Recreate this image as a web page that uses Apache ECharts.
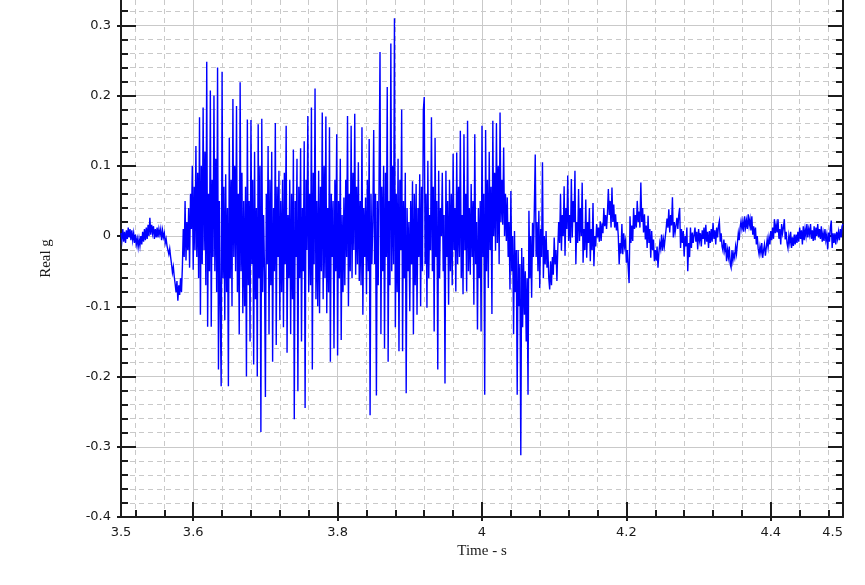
<!DOCTYPE html>
<html>
<head>
<meta charset="utf-8">
<script src="https://cdn.jsdelivr.net/npm/echarts@6/dist/echarts.min.js"></script>
<style>
html,body{margin:0;padding:0;background:#ffffff;}
#chart{width:865px;height:585px;}
</style>
</head>
<body>
<div id="chart"></div>
<script>
// ---- data ----
const startTime = 3.5;       // s, first sample
const sampleStep = 0.00125;  // s, sampling step
const accel = [
  // 3.500 - 3.54875
  0.004, -0.006, 0.01, -0.008, 0.006, -0.01, 0.008, -0.004, 0.012, -0.002, 0.01, -0.006,
  0.008, -0.006, 0.004, -0.01, 0.002, -0.012, -0.004, -0.016, -0.004, -0.014, 0.0, -0.012,
  0.006, -0.008, 0.01, -0.006, 0.012, -0.004, 0.016, 0.0, 0.026, 0.002, 0.016, 0.004,
  0.014, -0.004, 0.01, -0.002,
  // 3.550 - 3.59875
  0.012, -0.002, 0.01, 0.002, 0.01, -0.006, 0.008, -0.002, 0.004, -0.01, -0.004, -0.014,
  -0.012, -0.026, -0.018, -0.03, -0.04, -0.052, -0.044, -0.058, -0.068, -0.08, -0.064, -0.092,
  -0.07, -0.084, -0.06, -0.08, -0.045, 0.01, -0.03, 0.05, -0.035, 0.02, -0.02, 0.04,
  -0.045, 0.06, 0.01, 0.1,
  // 3.600 - 3.64875
  -0.048, 0.07, -0.02, 0.128, -0.03, 0.09, -0.06, 0.169, -0.112, 0.1, -0.04, 0.183,
  -0.02, 0.12, -0.07, 0.248, -0.129, 0.06, -0.05, 0.207, -0.129, 0.08, -0.03, 0.2,
  -0.05, 0.11, -0.08, 0.24, -0.19, 0.05, -0.1, -0.214, 0.234, -0.06, 0.07, -0.12,
  0.088, -0.08, 0.04, -0.214,
  // 3.650 - 3.69875
  0.14, -0.06, 0.08, -0.1, 0.195, -0.03, 0.1, -0.05, 0.185, -0.08, 0.06, -0.14,
  0.219, -0.05, 0.09, -0.11, 0.05, -0.1, 0.07, -0.2, 0.166, -0.07, 0.05, -0.15,
  0.165, -0.04, 0.08, -0.183, 0.12, -0.09, 0.04, -0.2, 0.159, -0.06, 0.1, -0.279,
  0.167, -0.08, 0.03, -0.05,
  // 3.700 - 3.74875
  -0.229, 0.06, -0.04, 0.128, -0.14, 0.08, -0.07, 0.12, -0.179, 0.04, -0.05, 0.161,
  -0.155, 0.07, -0.03, 0.093, -0.12, 0.05, -0.08, 0.08, -0.13, 0.09, -0.04, 0.157,
  -0.166, 0.03, -0.06, 0.08, -0.14, 0.06, -0.09, 0.123, -0.261, 0.05, -0.03, 0.11,
  -0.221, 0.07, -0.06, 0.125,
  // 3.750 - 3.79875
  -0.15, 0.04, -0.05, 0.135, -0.245, 0.08, -0.02, 0.171, -0.08, 0.06, -0.07, 0.183,
  -0.19, 0.09, -0.04, 0.21, -0.09, 0.05, -0.1, 0.093, -0.11, 0.07, -0.05, 0.176,
  -0.09, 0.1, -0.06, 0.17, -0.11, 0.04, -0.08, 0.155, -0.179, 0.06, -0.03, 0.05,
  -0.16, 0.08, -0.05, 0.145,
  // 3.800 - 3.84875
  -0.17, 0.05, -0.06, 0.11, -0.148, 0.03, -0.08, 0.055, -0.07, 0.08, -0.03, 0.171,
  -0.1, 0.06, -0.05, 0.157, -0.06, 0.09, -0.02, 0.174, -0.055, 0.07, -0.04, 0.105,
  -0.064, 0.05, -0.07, 0.155, -0.112, 0.04, -0.03, 0.055, -0.083, 0.08, -0.05, 0.138,
  -0.255, 0.06, -0.04, 0.02,
  // 3.850 - 3.89875
  0.151, -0.04, 0.06, -0.227, 0.05, -0.07, 0.09, 0.262, -0.14, 0.07, -0.05, 0.1,
  -0.16, 0.09, -0.03, 0.212, -0.179, 0.05, -0.07, 0.274, -0.05, 0.1, -0.04, 0.31,
  -0.13, 0.06, -0.08, 0.11, -0.164, 0.08, -0.02, 0.18, -0.164, 0.05, -0.06, 0.09,
  -0.224, 0.04, -0.05, 0.02,
  // 3.900 - 3.94875
  -0.107, 0.05, -0.04, 0.078, -0.14, 0.06, -0.07, 0.074, -0.112, 0.04, -0.03, 0.088,
  -0.1, 0.07, -0.05, 0.179, 0.198, -0.04, 0.06, -0.102, 0.107, -0.06, 0.03, -0.02,
  0.169, -0.05, 0.07, -0.136, 0.14, -0.03, 0.05, -0.19, 0.093, -0.06, 0.04, 0.0,
  0.09, -0.05, 0.03, -0.21,
  // 3.950 - 3.99875
  0.093, -0.03, 0.05, -0.098, 0.08, -0.05, 0.06, -0.07, 0.117, -0.02, 0.04, -0.079,
  0.119, -0.04, 0.07, -0.03, 0.15, -0.06, 0.03, -0.083, 0.145, -0.02, 0.06, -0.079,
  0.164, -0.05, 0.04, -0.055, 0.074, -0.03, 0.05, -0.098, 0.145, -0.04, 0.02, -0.133,
  0.04, -0.06, 0.05, -0.136,
  // 4.000 - 4.04875
  0.157, -0.03, 0.06, -0.226, 0.151, -0.05, 0.08, -0.074, 0.12, -0.02, 0.07, -0.111,
  0.164, 0.0, 0.09, -0.021, 0.161, -0.01, 0.1, -0.04, 0.176, 0.02, 0.08, 0.016,
  0.126, 0.0, 0.06, -0.007, 0.055, -0.03, 0.02, -0.076, 0.064, -0.05, 0.0, -0.14,
  0.007, -0.08, -0.02, -0.226,
  // 4.050 - 4.09875
  -0.02, -0.1, -0.04, -0.312, -0.017, -0.13, -0.03, -0.112, -0.05, -0.15, -0.06, -0.226,
  0.036, -0.06, 0.0, -0.088, 0.019, -0.03, 0.04, 0.116, -0.03, 0.02, -0.05, 0.036,
  -0.074, 0.01, -0.03, 0.105, -0.06, 0.0, -0.04, 0.007, -0.045, -0.02, -0.06, -0.076,
  -0.036, -0.07, -0.03, -0.055,
  // 4.100 - 4.14875
  -0.002, -0.04, -0.02, -0.064, -0.017, 0.02, -0.01, 0.06, -0.021, 0.03, 0.0, 0.071,
  -0.028, 0.04, 0.01, 0.086, -0.007, 0.03, -0.01, 0.081, -0.002, 0.05, 0.02, 0.093,
  -0.04, 0.02, -0.01, 0.067, -0.007, 0.04, 0.0, 0.076, -0.038, 0.01, -0.02, 0.052,
  -0.031, 0.02, -0.01, 0.04,
  // 4.150 - 4.19875
  -0.036, 0.01, -0.02, 0.047, -0.043, 0.0, -0.015, 0.017, -0.002, 0.012, -0.008, 0.021,
  -0.007, 0.018, 0.004, 0.04, 0.014, 0.03, 0.01, 0.033, 0.067, 0.03, 0.05, 0.012,
  0.069, 0.02, 0.045, 0.012, 0.031, 0.008, 0.02, 0.0, -0.04, -0.01, -0.025, 0.017,
  -0.026, 0.004, -0.015, -0.007,
  // 4.200 - 4.24875
  -0.038, -0.02, -0.045, -0.067, 0.028, -0.01, 0.015, -0.007, 0.04, 0.01, 0.03, 0.012,
  0.05, 0.02, 0.035, 0.012, 0.076, 0.02, 0.04, 0.005, 0.031, -0.005, 0.015, -0.017,
  0.029, -0.01, 0.01, -0.031, 0.007, -0.02, -0.005, -0.036, -0.02, -0.035, -0.015, -0.045,
  -0.024, -0.01, -0.018, 0.002,
  // 4.250 - 4.29875
  -0.021, -0.005, -0.015, -0.002, 0.01, 0.025, 0.012, 0.038, 0.005, 0.03, 0.015, 0.055,
  -0.002, 0.02, 0.005, 0.015, 0.026, 0.01, 0.03, 0.04, -0.017, 0.01, -0.01, 0.007,
  -0.029, 0.0, -0.015, 0.012, -0.05, -0.01, -0.03, 0.012, -0.017, 0.005, -0.01, 0.002,
  0.012, -0.008, 0.006, -0.019,
  // 4.300 - 4.34875
  0.01, -0.006, 0.004, -0.015, 0.008, -0.004, 0.012, -0.012, 0.016, -0.008, 0.006, -0.017,
  0.007, -0.01, 0.01, -0.008, 0.019, -0.004, 0.008, -0.012, 0.012, -0.002, 0.014, 0.021,
  -0.008, 0.004, -0.015, -0.021, -0.005, -0.02, -0.01, -0.036, -0.02, -0.03, -0.015, -0.04,
  -0.045, -0.02, -0.035, -0.025,
  // 4.350 - 4.39875
  -0.031, -0.015, -0.025, -0.01, 0.004, -0.006, 0.012, 0.021, 0.01, 0.02, 0.006, 0.028,
  0.012, 0.022, 0.01, 0.031, 0.015, 0.024, 0.008, 0.028, 0.002, 0.014, -0.004, 0.012,
  -0.012, 0.0, -0.018, -0.026, -0.015, -0.024, -0.01, -0.031, -0.02, -0.012, -0.028, -0.026,
  -0.005, -0.016, -0.002, -0.012,
  // 4.400 - 4.44875
  0.007, -0.006, 0.012, -0.004, 0.024, 0.004, 0.016, 0.005, 0.024, -0.004, 0.01, -0.012,
  0.017, 0.004, 0.012, 0.024, -0.005, 0.006, -0.01, -0.017, 0.0, -0.01, 0.006, -0.017,
  -0.002, -0.014, 0.002, -0.012, 0.002, -0.01, 0.006, -0.008, 0.012, -0.004, 0.008, -0.012,
  0.014, -0.006, 0.01, 0.0,
  // 4.450 - 4.500
  0.017, -0.002, 0.01, 0.002, 0.017, -0.004, 0.008, -0.007, 0.014, -0.006, 0.012, 0.0,
  0.017, -0.002, 0.01, -0.004, 0.014, -0.008, 0.004, -0.007, 0.01, -0.006, 0.002, -0.019,
  0.005, -0.008, 0.012, 0.022, -0.017, 0.004, -0.01, 0.004, -0.012, 0.006, -0.004, 0.006,
  -0.006, 0.01, -0.002, 0.014, 0.017
];

// ---- ticks / labels ----
const xLabelValues = [3.5, 3.6, 3.8, 4, 4.2, 4.4, 4.5];
const xMajorTicks = [3.6, 3.8, 4.0, 4.2, 4.4];
const xMinorTicks = [3.52, 3.56, 3.64, 3.68, 3.72, 3.76, 3.84, 3.88, 3.92, 3.96,
                     4.04, 4.08, 4.12, 4.16, 4.24, 4.28, 4.32, 4.36, 4.44, 4.48];
const yMajorTicks = [-0.4, -0.3, -0.2, -0.1, 0, 0.1, 0.2, 0.3];
const yMinorTicks = [-0.38, -0.36, -0.34, -0.32, -0.28, -0.26, -0.24, -0.22,
                     -0.18, -0.16, -0.14, -0.12, -0.08, -0.06, -0.04, -0.02,
                     0.02, 0.04, 0.06, 0.08, 0.12, 0.14, 0.16, 0.18,
                     0.22, 0.24, 0.26, 0.28, 0.32];
const xTitle = 'Time - s';
const yTitle = 'Real g';

const xMin = 3.5, xMax = 4.5, yMin = -0.4, yMax = 0.336;

// ---- styles ----
const axisColor = '#1c1c1c';
const gridColor = '#c9c9c9';
const labelStyle = { color: '#1a1a1a', fontFamily: 'DejaVu Sans', fontSize: 13 };
const nameStyle = { color: '#1a1a1a', fontFamily: 'Liberation Serif', fontSize: 15 };

const seriesData = accel.map((v, i) => [+(startTime + i * sampleStep).toFixed(5), v]);

function baseX(extra) {
  return Object.assign({
    type: 'value', position: 'bottom', min: xMin, max: xMax, gridIndex: 0,
    axisLine: { show: false, onZero: false },
    axisLabel: { show: false },
    splitLine: { show: false },
    axisTick: { show: false }
  }, extra);
}
function baseY(pos, extra) {
  return Object.assign({
    type: 'value', position: pos, min: yMin, max: yMax, gridIndex: 0,
    axisLine: { show: false, onZero: false },
    axisLabel: { show: false },
    splitLine: { show: false },
    axisTick: { show: false }
  }, extra);
}

const option = {
  backgroundColor: '#ffffff',
  animation: false,
  grid: { left: 121, right: 22, top: 0, bottom: 68, containLabel: false, outerBoundsMode: 'none' },
  xAxis: [
    baseX({
      axisLine: { show: true, onZero: false, lineStyle: { color: axisColor, width: 2 } },
      axisTick: { show: true, inside: true, length: 15, customValues: xMajorTicks,
                  lineStyle: { color: axisColor, width: 2 } },
      axisLabel: Object.assign({ show: true, customValues: xLabelValues, margin: 9,
                                 alignMaxLabel: 'right' }, labelStyle),
      splitLine: { show: true, lineStyle: { color: gridColor, width: 1 } },
      name: xTitle, nameLocation: 'middle', nameGap: 22, nameTextStyle: nameStyle
    }),
    baseX({
      axisTick: { show: true, inside: true, length: 7, customValues: xMinorTicks,
                  lineStyle: { color: axisColor, width: 2 } },
      splitLine: { show: true, lineStyle: { color: gridColor, width: 1, type: [5, 4] } }
    }),
    baseX({
      axisTick: { show: true, inside: false, length: 4, customValues: xMajorTicks,
                  lineStyle: { color: axisColor, width: 2 } }
    })
  ],
  yAxis: [
    baseY('left', {
      axisLine: { show: true, onZero: false, lineStyle: { color: axisColor, width: 2 } },
      axisTick: { show: true, inside: true, length: 15, customValues: yMajorTicks,
                  lineStyle: { color: axisColor, width: 2 } },
      axisLabel: Object.assign({ show: true, customValues: yMajorTicks, margin: 10 }, labelStyle),
      splitLine: { show: true, lineStyle: { color: gridColor, width: 1 } },
      name: yTitle, nameLocation: 'middle', nameGap: 67, nameTextStyle: nameStyle
    }),
    baseY('left', {
      axisTick: { show: true, inside: true, length: 7, customValues: yMinorTicks,
                  lineStyle: { color: axisColor, width: 2 } },
      splitLine: { show: true, lineStyle: { color: gridColor, width: 1, type: [5, 4] } }
    }),
    baseY('left', {
      axisTick: { show: true, inside: false, length: 4, customValues: yMajorTicks,
                  lineStyle: { color: axisColor, width: 2 } }
    }),
    baseY('right', {
      axisLine: { show: true, onZero: false, lineStyle: { color: axisColor, width: 2 } },
      axisTick: { show: true, inside: true, length: 15, customValues: yMajorTicks,
                  lineStyle: { color: axisColor, width: 2 } }
    }),
    baseY('right', {
      axisTick: { show: true, inside: true, length: 7, customValues: yMinorTicks,
                  lineStyle: { color: axisColor, width: 2 } }
    })
  ],
  series: [{
    type: 'line',
    xAxisIndex: 0,
    yAxisIndex: 0,
    data: seriesData,
    showSymbol: false,
    symbol: 'none',
    sampling: null,
    lineStyle: { color: '#0000ff', width: 1.4, join: 'miter' },
    itemStyle: { color: '#0000ff' },
    z: 5
  }]
};

const chart = echarts.init(document.getElementById('chart'), null, { renderer: 'canvas' });
chart.setOption(option);
</script>
</body>
</html>
